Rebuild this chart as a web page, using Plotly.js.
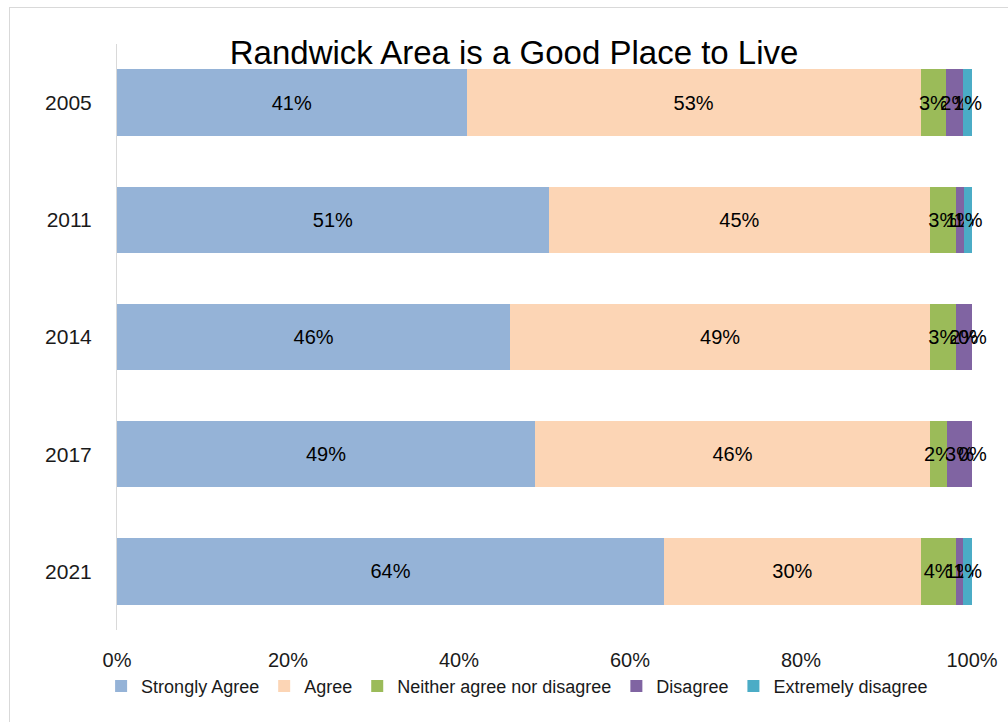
<!DOCTYPE html>
<html>
<head>
<meta charset="utf-8">
<script src="https://cdn.plot.ly/plotly-3.0.1.min.js"></script>
<style>
  html, body { margin: 0; padding: 0; background: #fff; }
  #wrap { position: relative; width: 1008px; height: 722px; }
  #chart { width: 1008px; height: 722px; }
  #frame { position: absolute; left: 9px; top: 7px; right: -2px; bottom: -2px;
           border-left: 1px solid #d9d9d9; border-top: 1px solid #d9d9d9; pointer-events: none; }
</style>
</head>
<body>
<div id="wrap"><div id="chart"></div><div id="frame"></div></div>
<script>
const years = ["2005", "2011", "2014", "2017", "2021"];
const seriesNames = ["Strongly Agree", "Agree", "Neither agree nor disagree", "Disagree", "Extremely disagree"];
const stronglyAgree = [40.9, 50.5, 46.0, 48.9, 64.0];
const agree = [53.1, 44.6, 49.1, 46.2, 30.0];
const neither = [3.0, 3.0, 3.0, 2.0, 4.1];
const disagree = [2.0, 1.0, 1.9, 2.9, 0.9];
const extremelyDisagree = [1.0, 0.9, 0.0, 0.0, 1.0];
const colors = ["#95B3D7", "#FCD5B5", "#9BBB59", "#8064A2", "#4BACC6"];
const xTickVals = [0, 20, 40, 60, 80, 100];
const xTickText = ["0%", "20%", "40%", "60%", "80%", "100%"];

const allSeries = [stronglyAgree, agree, neither, disagree, extremelyDisagree];
const FONT = "Liberation Sans, Arial, sans-serif";
const labelFont = { family: FONT, size: 20, color: "#000" };

const traces = allSeries.map((vals, i) => ({
  type: "bar",
  orientation: "h",
  name: seriesNames[i],
  y: years,
  x: vals,
  marker: { color: colors[i], line: { width: 0 } },
  text: vals.map(v => Math.round(v) + "%"),
  textposition: "inside",
  insidetextanchor: "middle",
  textangle: 0,
  constraintext: "none",
  textfont: labelFont,
  cliponaxis: false,
  hoverinfo: "skip"
}));

// labels for zero-width segments (Plotly draws no text for empty bars)
const annotations = [];
allSeries.forEach((vals, i) => {
  vals.forEach((v, j) => {
    if (v === 0) {
      let start = 0;
      for (let k = 0; k < i; k++) start += allSeries[k][j];
      annotations.push({
        x: start, y: j, xref: "x", yref: "y",
        text: Math.round(v) + "%", showarrow: false,
        xanchor: "center", yanchor: "middle",
        font: labelFont
      });
    }
  });
});

const layout = {
  width: 1008,
  height: 722,
  margin: { l: 117, r: 36, t: 44, b: 92, autoexpand: false },
  paper_bgcolor: "#fff",
  plot_bgcolor: "#fff",
  barmode: "stack",
  bargap: 0.435,
  showlegend: true,
  annotations: annotations,
  title: {
    text: "Randwick Area is a Good Place to Live",
    font: { family: FONT, size: 33, color: "#000" },
    x: 0.51, xanchor: "center",
    y: 0.928, yanchor: "middle"
  },
  xaxis: {
    range: [0, 100],
    tickvals: xTickVals,
    ticktext: xTickText,
    showgrid: false,
    zeroline: false,
    showline: false,
    ticks: "outside",
    ticklen: 12,
    tickcolor: "rgba(0,0,0,0)",
    tickfont: { family: FONT, size: 20, color: "#1a1a1a" },
    fixedrange: true,
    automargin: false
  },
  yaxis: {
    type: "category",
    categoryorder: "array",
    categoryarray: years,
    range: [years.length - 0.5, -0.5],
    autorange: false,
    showgrid: false,
    zeroline: false,
    showline: true,
    linecolor: "#d9d9d9",
    linewidth: 1,
    ticks: "outside",
    ticklen: 20,
    tickcolor: "rgba(0,0,0,0)",
    tickfont: { family: FONT, size: 21, color: "#1a1a1a" },
    fixedrange: true,
    automargin: false
  },
  legend: {
    orientation: "h",
    xref: "container", yref: "container",
    x: 0.513, xanchor: "center",
    y: 0.075, yanchor: "top",
    bgcolor: "rgba(0,0,0,0)",
    font: { family: FONT, size: 18, color: "#1a1a1a" },
    traceorder: "normal",
    itemclick: false,
    itemdoubleclick: false
  },
  uniformtext: { mode: false }
};

Plotly.newPlot("chart", traces, layout, { displayModeBar: false, staticPlot: true });
</script>
</body>
</html>
